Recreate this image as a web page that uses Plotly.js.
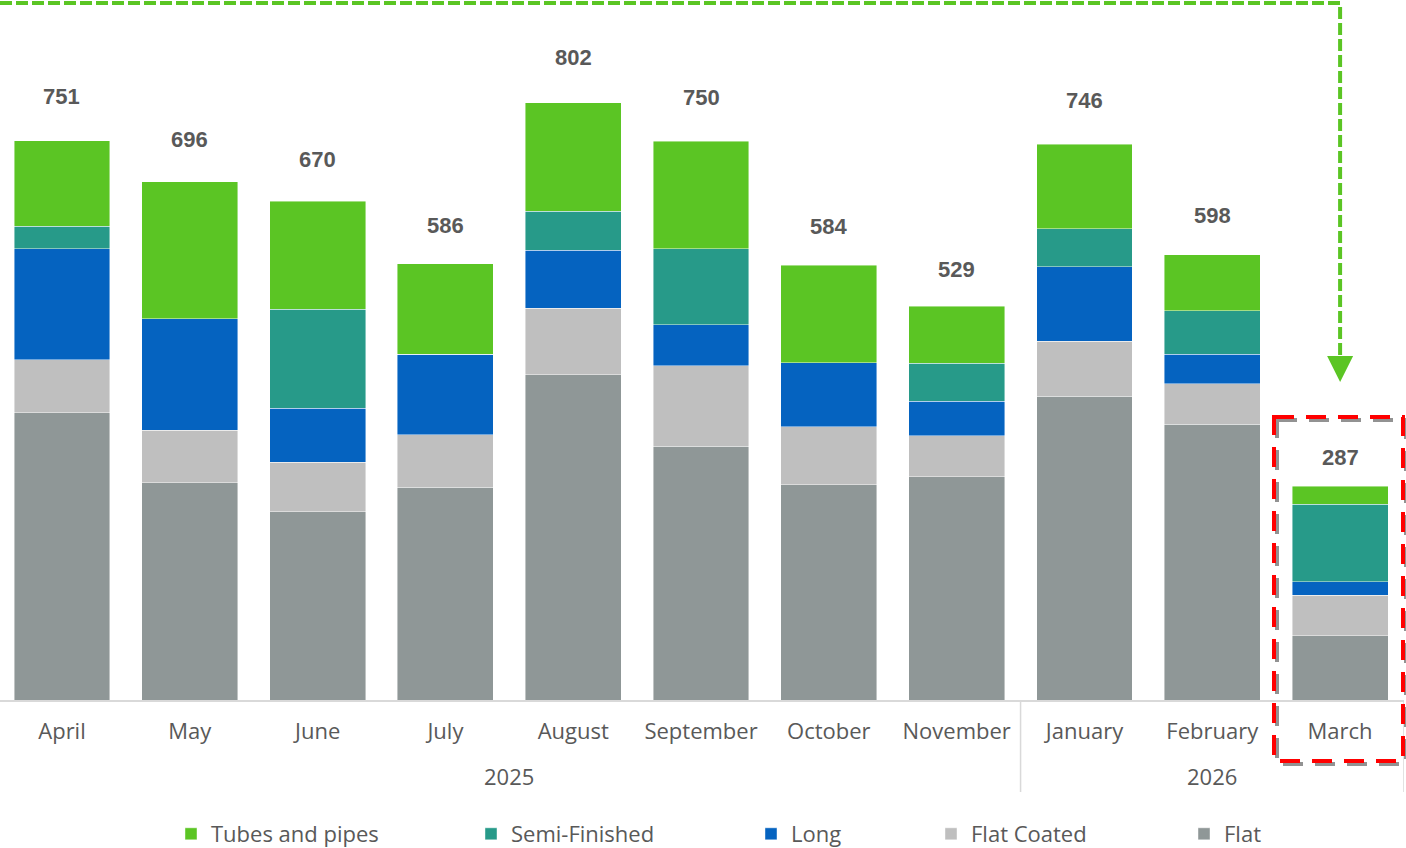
<!DOCTYPE html>
<html>
<head>
<meta charset="utf-8">
<script src="https://cdn.plot.ly/plotly-3.0.1.min.js"></script>
<style>html,body{margin:0;padding:0;background:#fff;}#chart{width:1406px;height:848px;}</style>
</head>
<body>
<div id="chart"></div>
<script>
// ---- data ----
const months = ['April','May','June','July','August','September','October','November','January','February','March'];
const years  = ['2025','2025','2025','2025','2025','2025','2025','2025','2026','2026','2026'];
const flat        = [386, 292, 253, 286, 437, 341, 289, 300, 408, 370, 86];
const flatCoated  = [ 71,  70,  66,  70,  89, 108,  78,  55,  74,  55, 55];
const longProd    = [149, 150,  73, 108,  78,  55,  86,  46, 100,  39, 18];
const semiFinished= [ 30,   0, 133,   0,  52, 102,   0,  51,  51,  59, 104];
const tubesPipes  = [115, 184, 145, 122, 146, 144, 131,  77, 113,  75, 24];
const seriesNames = ['Flat','Flat Coated','Long','Semi-Finished','Tubes and pipes'];

// ---- styling ----
const colors = ['#8F9797','#BFBFBF','#0563C0','#279A89','#5BC524'];
const seriesData = [flat, flatCoated, longProd, semiFinished, tubesPipes];
const legendIds = ['legend5','legend4','legend3','legend2','legend'];
const totals = months.map((m,i)=>seriesData.reduce((s,arr)=>s+arr[i],0));

const W = 1406, H = 848, ML = 0, MR = 2, MT = 0, MB = 148;
const PW = W-ML-MR, PH = H-MT-MB;
const xRange = [-0.485, 10.5];
const catX = i => (i - xRange[0])/(xRange[1]-xRange[0]);
const pxX = p => (p-ML)/PW;
const pxY = p => (MT+PH-p)/PH;

const traces = seriesData.map((arr,k)=>({
  type:'bar',
  name: seriesNames[k],
  x: months,
  y: arr,
  marker:{color: colors[k], line:{color:'rgba(255,255,255,0.55)', width:0.8}},
  legend: legendIds[k],
  hoverinfo:'skip'
}));

const labelFont = {family:'Open Sans, sans-serif', size:22, color:'#595959'};

// total labels
const annotations = totals.map((t,i)=>({
  x:i, y:t, xref:'x', yref:'y',
  text:String(t), showarrow:false,
  yshift: 19 + 0.033*t,
  yanchor:'middle',
  font:{family:'Liberation Sans, Arial, sans-serif', size:22, color:'#595959', weight:'bold'}
}));

// year group labels and dividers (from the years array)
const groups = [];
years.forEach((y,i)=>{
  if(!groups.length || groups[groups.length-1].name!==y) groups.push({name:y, start:i, end:i});
  else groups[groups.length-1].end = i;
});
const shapes = [];
groups.forEach(g=>{
  annotations.push({x:(g.start+g.end)/2, y:pxY(776), xref:'x', yref:'paper', text:g.name,
    showarrow:false, yanchor:'middle', font:labelFont});
});
const bounds = [groups[0].start-0.5].concat(groups.map(g=>g.end+0.5));
bounds.forEach(b=>{
  shapes.push({type:'line', xref:'x', yref:'paper', x0:b, x1:b, y0:pxY(700), y1:pxY(792),
    line:{color:'#D9D9D9', width:1.5}, layer:'below'});
});

const green = '#5BC524';
const arrowX = catX(months.length-1);
shapes.push(
  {type:'path', xref:'paper', yref:'paper', layer:'above',
   path:`M 0,${pxY(3)} L ${arrowX},${pxY(3)} L ${arrowX},${pxY(357)}`,
   line:{color:green, width:4, dash:'12px,4px'}},
  {type:'path', xref:'paper', yref:'paper', layer:'above',
   path:`M ${arrowX-13/PW},${pxY(356)} L ${arrowX+13/PW},${pxY(356)} L ${arrowX},${pxY(382)} Z`,
   fillcolor:green, line:{width:0}},
  {type:'rect', xref:'paper', yref:'paper', layer:'above',
   x0:pxX(1277), x1:pxX(1406), y0:pxY(420), y1:pxY(764),
   line:{color:'rgba(110,110,110,0.75)', width:4, dash:'20px,12px'}},
  {type:'rect', xref:'paper', yref:'paper', layer:'above',
   x0:pxX(1274), x1:pxX(1403), y0:pxY(417), y1:pxY(761),
   line:{color:'#FF0000', width:4, dash:'20px,12px'}}
);

const legendY = pxY(834);
const mkLegend = markerLeft => ({x:pxX(markerLeft - 17), y:legendY, xanchor:'left', yanchor:'middle', orientation:'h',
  font:labelFont, bgcolor:'rgba(0,0,0,0)', borderwidth:0, itemclick:false, itemdoubleclick:false});

const layout = {
  width:W, height:H,
  margin:{l:ML, r:MR, t:MT, b:MB, pad:0, autoexpand:false},
  paper_bgcolor:'#ffffff', plot_bgcolor:'#ffffff',
  barmode:'stack', bargap:0.25,
  showlegend:true,
  xaxis:{type:'category', range:xRange, showline:true, linecolor:'#D9D9D9', linewidth:1.5,
    showgrid:false, zeroline:false, ticks:'', ticklabelstandoff:11, automargin:false,
    tickfont:labelFont},
  yaxis:{range:[0, 940], visible:false, showgrid:false, zeroline:false, automargin:false},
  legend: mkLegend(188),
  legend2: mkLegend(488),
  legend3: mkLegend(768),
  legend4: mkLegend(948),
  legend5: mkLegend(1201),
  annotations, shapes
};

Plotly.newPlot('chart', traces, layout, {staticPlot:true, displayModeBar:false});
</script>
</body>
</html>
